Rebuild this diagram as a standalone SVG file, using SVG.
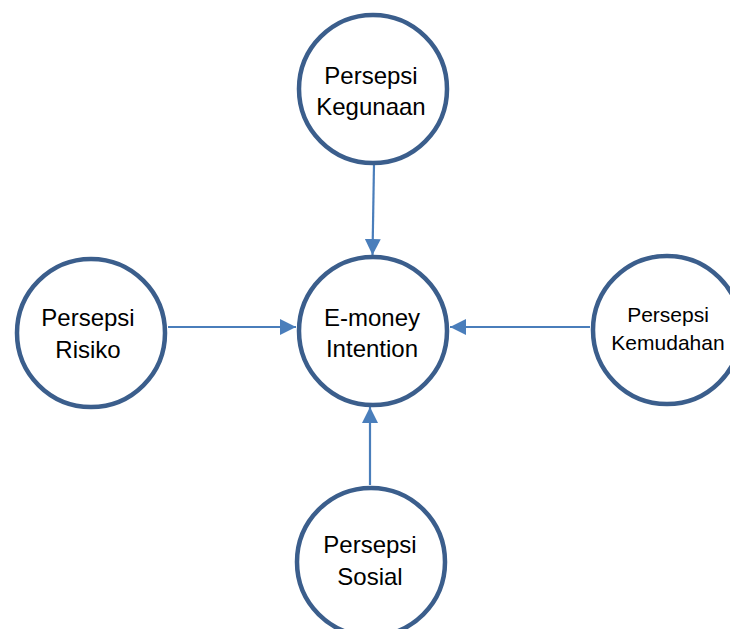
<svg xmlns="http://www.w3.org/2000/svg" width="730" height="629" viewBox="0 0 730 629">
<defs>
<style>
.node{fill:#fff;stroke:#3B5E8C;stroke-width:4.5}
.lbl{font-family:"Liberation Sans",Arial,sans-serif;font-size:24px;fill:#000;text-anchor:middle}
.sm{font-size:21px}
.edge{stroke:#4A7EBB;stroke-width:2.2;fill:none}
</style>
<marker id="ah2" viewBox="0 0 10 10" refX="10" refY="5" markerWidth="16" markerHeight="16" markerUnits="userSpaceOnUse" orient="auto">
<path d="M0,0 L10,5 L0,10 z" fill="#4A7EBB"/>
</marker>
</defs>
<rect width="730" height="629" fill="#fff"/>
<g id="connectors">
<line class="edge" x1="374" y1="164" x2="372.5" y2="255" marker-end="url(#ah2)"/>
<line class="edge" x1="168" y1="327" x2="296" y2="327" marker-end="url(#ah2)"/>
<line class="edge" x1="590" y1="327" x2="450" y2="327" marker-end="url(#ah2)"/>
<line class="edge" x1="370" y1="485" x2="370" y2="407" marker-end="url(#ah2)"/>
</g>
<g id="kegunaan">
<circle class="node" cx="373" cy="89" r="74"/>
<text class="lbl" x="371" y="84">Persepsi</text>
<text class="lbl" x="371" y="115">Kegunaan</text>
</g>
<g id="intention">
<circle class="node" cx="373" cy="331" r="74"/>
<text class="lbl" x="372" y="326">E-money</text>
<text class="lbl" x="372" y="357">Intention</text>
</g>
<g id="risiko">
<circle class="node" cx="91" cy="333" r="74"/>
<text class="lbl" x="88" y="326">Persepsi</text>
<text class="lbl" x="88" y="358">Risiko</text>
</g>
<g id="kemudahan">
<circle class="node" cx="667" cy="330" r="74"/>
<text class="lbl sm" x="668" y="322">Persepsi</text>
<text class="lbl sm" x="668" y="350">Kemudahan</text>
</g>
<g id="sosial">
<circle class="node" cx="371" cy="562" r="74"/>
<text class="lbl" x="370" y="553">Persepsi</text>
<text class="lbl" x="370" y="585">Sosial</text>
</g>
</svg>
